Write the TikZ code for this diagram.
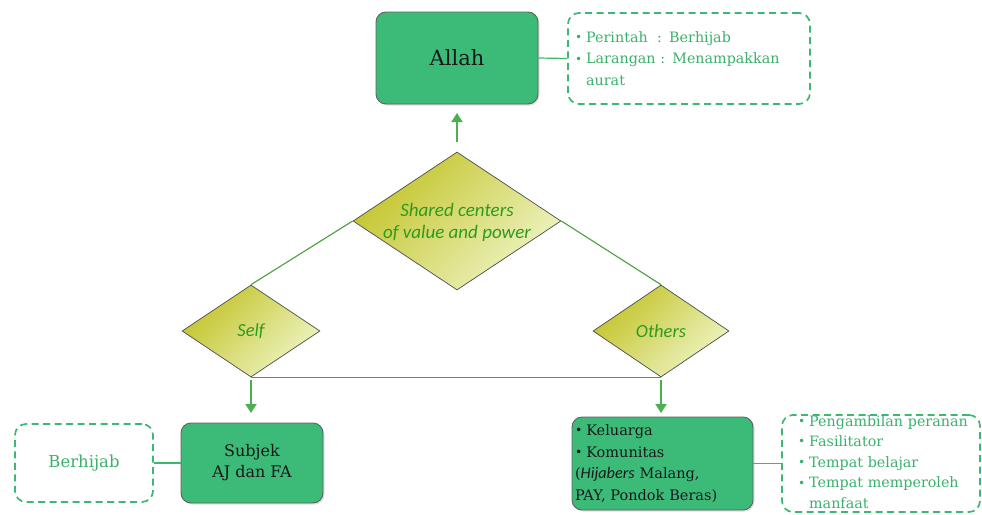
\documentclass[tikz,border=0pt]{standalone}
\usepackage{fontspec}
\setmainfont{DejaVu Serif}
\newfontfamily\dfont{Carlito}
\newfontfamily\hfont[Scale=1.12]{Carlito}
\usetikzlibrary{shapes.geometric,arrows.meta,shadows}
\definecolor{boxgreen}{HTML}{3CBB78}
\definecolor{dashgreen}{HTML}{3DB870}
\definecolor{txtgreen}{HTML}{3AB06C}
\definecolor{linegreen}{HTML}{4A9E3C}
\definecolor{dtext}{HTML}{2E9A1E}
\definecolor{dmddark}{HTML}{C3C42A}
\definecolor{dmdlight}{HTML}{EEF4C4}
\definecolor{arrowgreen}{HTML}{4CAF50}
\newcommand\mybul{\raisebox{0.1ex}{\scalebox{0.85}{\textbullet}}\hspace{4pt}}
\tikzset{
  solidbox/.style={draw=gray!75!black, fill=boxgreen, rounded corners=10pt, line width=0.9pt,
    drop shadow={opacity=0.25, shadow xshift=1.5pt, shadow yshift=-1.5pt}, text=black!90, inner sep=0pt},
  dashbox/.style={draw=dashgreen, dash pattern=on 7pt off 4.5pt, line width=1.7pt, rounded corners=11pt, inner sep=0pt},
  dmd/.style={diamond, draw=gray!60!black, line width=0.7pt, inner sep=0pt,
    top color=dmddark, bottom color=dmdlight, shading angle=45},
  dmdtext/.style={text=dtext, align=center, inner sep=0pt},
  conn/.style={draw=dashgreen, line width=1.2pt},
  dline/.style={draw=linegreen, line width=1.1pt},
  arr/.style={draw=arrowgreen, line width=2pt, -{Triangle[length=9pt,width=11pt]}},
}
\begin{document}
\begin{tikzpicture}[x=1pt,y=-1pt]
\useasboundingbox (0,0) rectangle (982,514);
% top
\node[solidbox, minimum width=162, minimum height=92, font={\fontsize{21}{25}\selectfont}] (allah) at (457,58)
  {Allah};
\node[dashbox, minimum width=242, minimum height=91, text width=228, align=left, inner xsep=7,
  text=txtgreen, font={\fontsize{14.3}{21.5}\selectfont}] (dash1) at (689,58.5)
  {\mybul Perintah\ \ : Berhijab\\ \mybul Larangan : Menampakkan\\ \phantom{\mybul}aurat};
\draw[conn] (allah.east) -- (dash1.west);
\coordinate (a1s) at (457,142);
\coordinate (a1e) at (457,113);
\draw[arr] (a1s) -- (a1e);
% diamonds
\node[dmd, minimum width=208, minimum height=138] (shared) at (457,221) {};
\node[dmdtext, font={\dfont\itshape\fontsize{19}{22}\selectfont}] (sharedtxt) at (457,222)
  {Shared centers\\of value and power};
\node[dmd, minimum width=138, minimum height=92] (self) at (251,331) {};
\node[dmdtext, font={\dfont\itshape\fontsize{18.5}{22}\selectfont}] (selftxt) at (251,331) {Self};
\node[dmd, minimum width=136, minimum height=92] (others) at (661,331) {};
\node[dmdtext, font={\dfont\itshape\fontsize{18.5}{22}\selectfont}] (otherstxt) at (661,331) {Others};
\draw[dline] (shared.west) -- (self.north);
\draw[dline] (shared.east) -- (others.north);
\draw[dline] (self.south) -- (others.south);
\coordinate (a2s) at (251,380);
\coordinate (a2e) at (251,413);
\coordinate (a3s) at (661,380);
\coordinate (a3e) at (661,413);
\draw[arr] (a2s) -- (a2e);
\draw[arr] (a3s) -- (a3e);
% bottom left
\node[solidbox, minimum width=142, minimum height=80, align=center, font={\fontsize{16}{21}\selectfont}] (subjek) at (252,463)
  {Subjek\\AJ dan FA};
\node[dashbox, minimum width=138, minimum height=78, text=txtgreen, font={\fontsize{16.5}{20}\selectfont}] (berhijab) at (84,463)
  {Berhijab};
\draw[conn] (subjek.west) -- (berhijab.east);
% bottom right
\node[solidbox, minimum width=181, minimum height=93, text width=175, align=left, inner xsep=3,
  font={\fontsize{14.5}{21.7}\selectfont}] (komunitas) at (662.5,463.5)
  {\mybul Keluarga\\ \mybul Komunitas\\ ({\hfont\itshape Hijabers} Malang,\\ PAY, Pondok Beras)};
\node[dashbox, minimum width=198, minimum height=97] (dash2) at (881,463.5) {};
\node[text=txtgreen, text width=182, align=left, inner sep=0pt, font={\fontsize{14.3}{20.6}\selectfont}] (dash2txt) at (889,462)
  {\mybul Pengambilan peranan\\ \mybul Fasilitator\\ \mybul Tempat belajar\\ \mybul Tempat memperoleh\\ \phantom{\mybul}manfaat};
\draw[conn] (komunitas.east) -- (dash2.west);
\end{tikzpicture}
\end{document}
